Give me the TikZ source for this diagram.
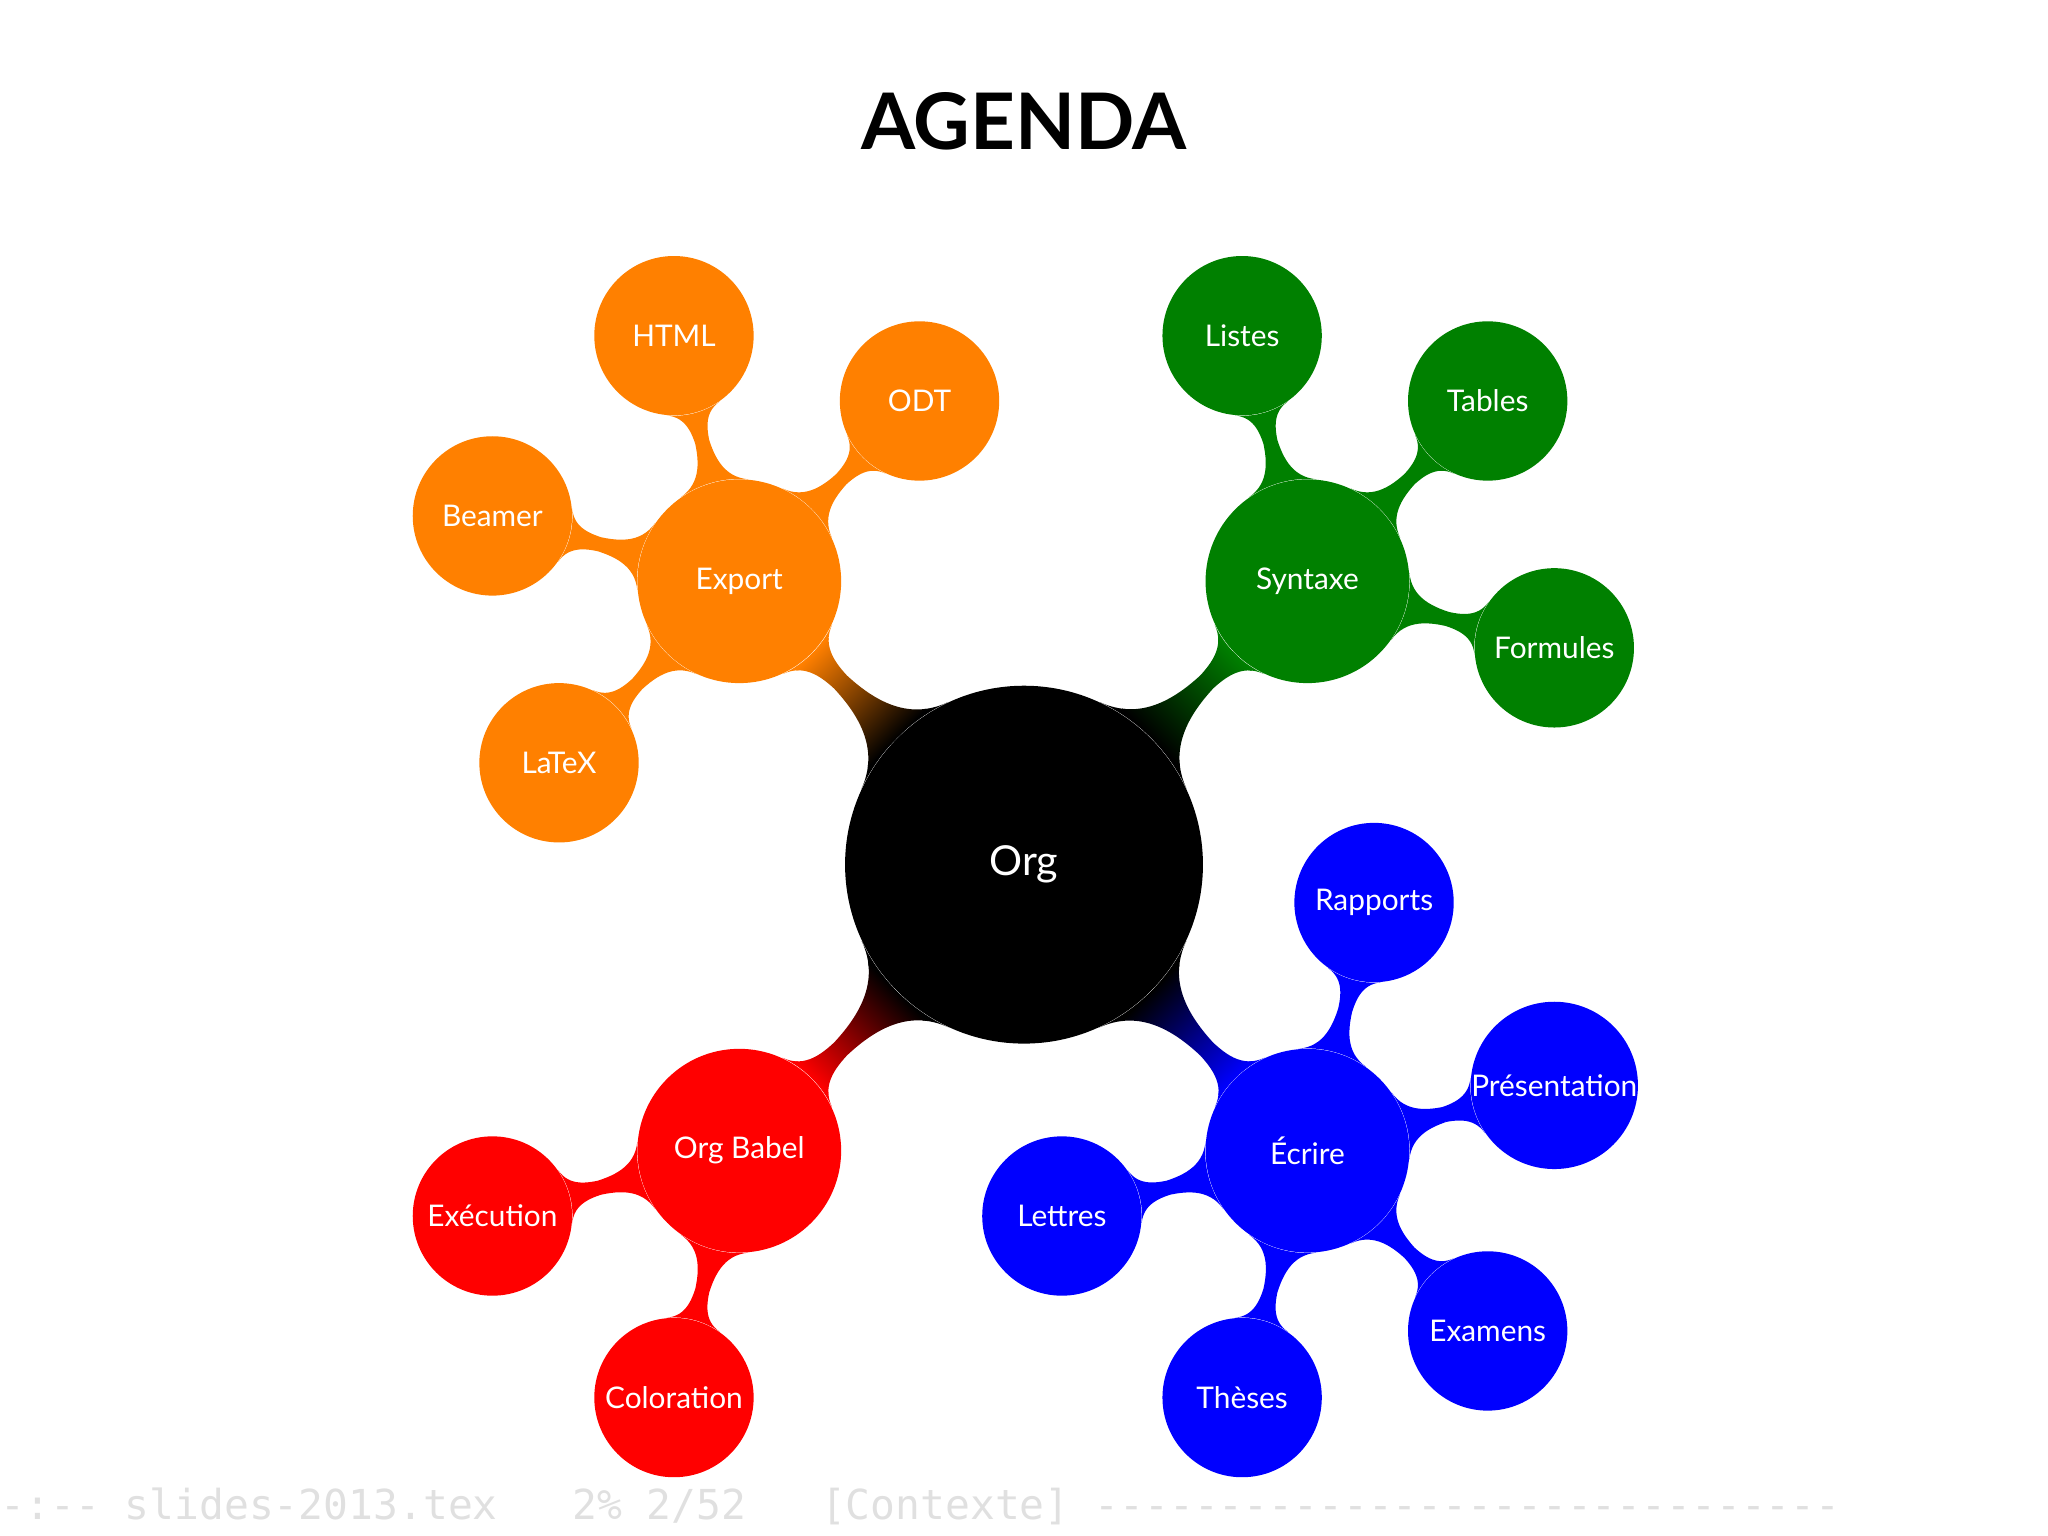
\documentclass[tikz,border=0pt]{standalone}
\usepackage{fontspec}
\setmainfont{Lato}
\setmonofont{DejaVu Sans Mono}
\usetikzlibrary{mindmap,backgrounds}
\begin{document}
\begin{tikzpicture}[x=0.02cm,y=-0.02cm,
  cpt/.style={circle,draw=none,fill=#1,text=white,inner sep=0pt,font=\fontsize{13}{15}\selectfont},
  big/.style={cpt=#1,minimum size=156*0.02cm},
  small/.style={cpt=#1,minimum size=122*0.02cm},
  bar/.style={concept color=#1,circle connection bar}]
\useasboundingbox (0,0) rectangle (1568,1176);
\node[font=\bfseries\fontsize{34}{40}\selectfont] (title) at (784,93) {AGENDA};
\node[cpt=black,minimum size=274*0.02cm,font=\fontsize{18}{20}\selectfont] (org) at (784,662) {Org};
\node[big=orange] (export) at (566,445) {Export};
\node[big=green!50!black] (syn) at (1001,445) {Syntaxe};
\node[big=blue] (ecr) at (1001,881) {Écrire};
\node[big=red] (bab) at (566,881) {Org Babel};
\node[small=orange] (html) at (516,257) {HTML};
\node[small=orange] (odt) at (704,307) {ODT};
\node[small=orange] (beamer) at (377,395) {Beamer};
\node[small=orange] (latex) at (428,584) {LaTeX};
\node[small=green!50!black] (listes) at (951,257) {Listes};
\node[small=green!50!black] (tables) at (1139,307) {Tables};
\node[small=green!50!black] (form) at (1190,496) {Formules};
\node[small=blue] (rap) at (1052,691) {Rapports};
\node[small=blue] (pres) at (1190,831) {Présentation};
\node[small=blue] (exa) at (1139,1019) {Examens};
\node[small=blue] (these) at (951,1070) {Thèses};
\node[small=blue] (let) at (813,931) {Lettres};
\node[small=red] (exe) at (377,931) {Exécution};
\node[small=red] (col) at (516,1070) {Coloration};
\begin{scope}[on background layer,mindmap]
\path (org) to[circle connection bar switch color=from (black) to (orange)] (export);
\path (org) to[circle connection bar switch color=from (black) to (green!50!black)] (syn);
\path (org) to[circle connection bar switch color=from (black) to (blue)] (ecr);
\path (org) to[circle connection bar switch color=from (black) to (red)] (bab);
\foreach \c in {html,odt,beamer,latex} \path[concept color=orange] (export) to[circle connection bar] (\c);
\foreach \c in {listes,tables,form} \path[concept color=green!50!black] (syn) to[circle connection bar] (\c);
\foreach \c in {rap,pres,exa,these,let} \path[concept color=blue] (ecr) to[circle connection bar] (\c);
\foreach \c in {exe,col} \path[concept color=red] (bab) to[circle connection bar] (\c);
\end{scope}
\node[anchor=west,text=black!12,font=\ttfamily\fontsize{18}{20}\selectfont,inner sep=0pt] (status) at (0,1153) {-:-- slides-2013.tex\ \ \ 2\% 2/52\ \ \ [Contexte] ------------------------------};
\end{tikzpicture}
\end{document}
